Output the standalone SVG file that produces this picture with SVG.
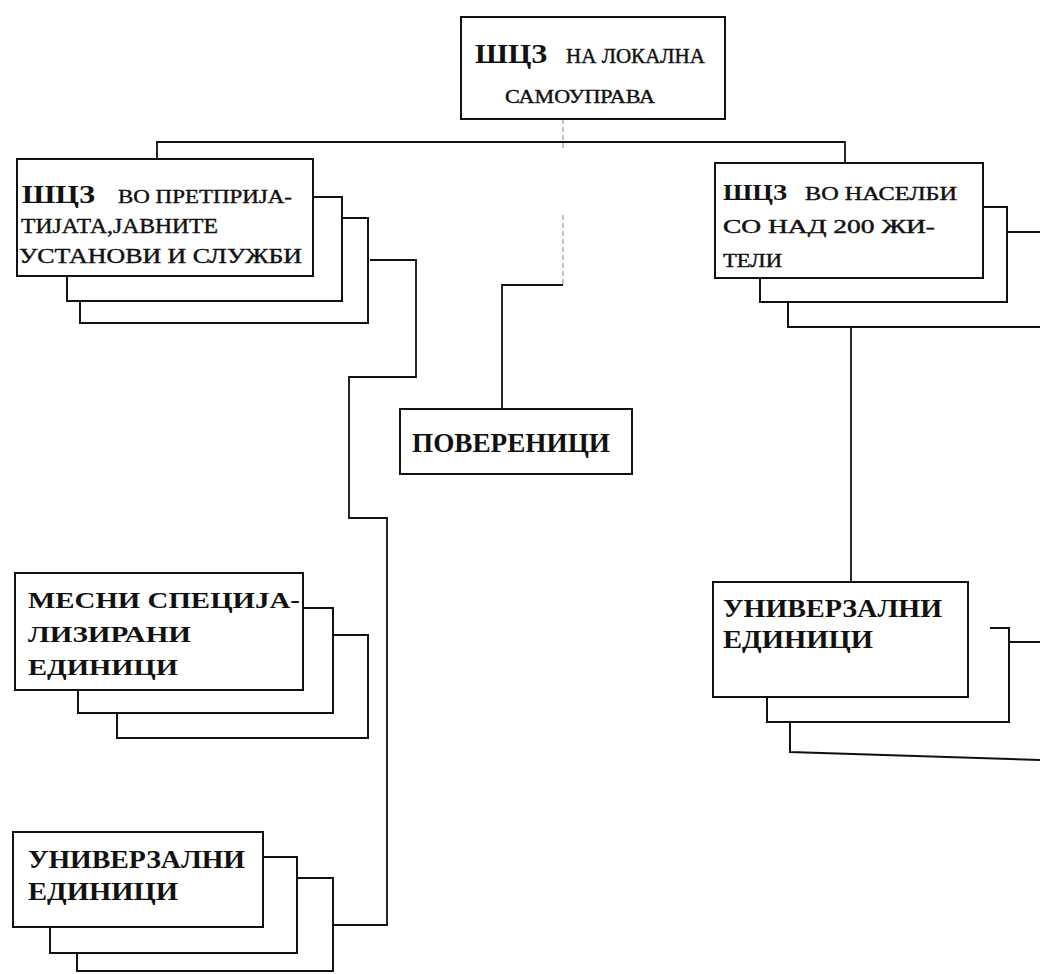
<svg xmlns="http://www.w3.org/2000/svg" width="1040" height="974" viewBox="0 0 1040 974">
<style>
.box{fill:#fff;stroke:#111;stroke-width:2}
.layer{fill:none;stroke:#111;stroke-width:2}
.conn{fill:none;stroke:#111;stroke-width:1.8}
.faint{fill:none;stroke:#9a9a9a;stroke-width:1.2;stroke-dasharray:5 3}
.t{font-family:"Liberation Serif","DejaVu Serif",serif;fill:#111}
.r{stroke:#111;stroke-width:0.4}
.b{font-weight:bold}
</style>
<rect width="1040" height="974" fill="#fff"/>
<g id="connectors">
<path class="conn" d="M157,158 V142 H845 V163"/>
<path class="faint" d="M563,119 V150 M563,215 V285"/>
<path class="conn" d="M563,285 H502 V409"/>
<path class="conn" d="M370,260 H416 V377 H349 V518 H387 V925 H333"/>
<path class="conn" d="M851,327 V582"/>
</g>
<g id="n1-local">
<rect class="box" x="461" y="17" width="264" height="102"/>
<text class="t" y="63"><tspan class="b" x="475" font-size="28" textLength="72" lengthAdjust="spacingAndGlyphs">ШЦЗ</tspan><tspan class="r" x="566" font-size="20" textLength="139" lengthAdjust="spacingAndGlyphs">НА ЛОКАЛНА</tspan></text>
<text class="t r" x="505" y="103" font-size="19" textLength="150" lengthAdjust="spacingAndGlyphs">САМОУПРАВА</text>
</g>
<g id="n2-enterprises">
<path class="layer" d="M342,218 H368 V323 H80 V301"/>
<path class="layer" d="M313,197 H342 V301 H67 V276"/>
<rect class="box" x="17" y="159" width="296" height="117"/>
<text class="t" y="203"><tspan class="b" x="22" font-size="26" textLength="73" lengthAdjust="spacingAndGlyphs">ШЦЗ</tspan><tspan class="r" x="118" font-size="19" textLength="174" lengthAdjust="spacingAndGlyphs">ВО ПРЕТПРИЈА-</tspan></text>
<text class="t r" x="21" y="233" font-size="20" textLength="197" lengthAdjust="spacingAndGlyphs">ТИЈАТА,ЈАВНИТЕ</text>
<text class="t r" x="19" y="263" font-size="20" textLength="283" lengthAdjust="spacingAndGlyphs">УСТАНОВИ И СЛУЖБИ</text>
</g>
<g id="n3-settlements">
<path class="layer" d="M1007,232 H1040 M1040,327 H788 V302"/>
<path class="layer" d="M983,207 H1007 V302 H760 V278"/>
<rect class="box" x="715" y="163" width="268" height="115"/>
<text class="t" y="200"><tspan class="b" x="723" font-size="24" textLength="64" lengthAdjust="spacingAndGlyphs">ШЦЗ</tspan><tspan class="r" x="805" font-size="18" textLength="152" lengthAdjust="spacingAndGlyphs">ВО НАСЕЛБИ</tspan></text>
<text class="t r" x="723" y="233" font-size="18" textLength="212" lengthAdjust="spacingAndGlyphs">СО НАД 200 ЖИ-</text>
<text class="t r" x="723" y="267" font-size="18" textLength="59" lengthAdjust="spacingAndGlyphs">ТЕЛИ</text>
</g>
<g id="n4-povereneci">
<rect class="box" x="400" y="409" width="232" height="65"/>
<text class="t b" x="412" y="452" font-size="27" textLength="198" lengthAdjust="spacingAndGlyphs">ПОВЕРЕНИЦИ</text>
</g>
<g id="n5-mesni">
<path class="layer" d="M333,635 H368 V738 H117 V713"/>
<path class="layer" d="M303,608 H333 V713 H78 V690"/>
<rect class="box" x="15" y="573" width="288" height="117"/>
<text class="t b" x="28" y="608" font-size="23" textLength="272" lengthAdjust="spacingAndGlyphs">МЕСНИ СПЕЦИЈА-</text>
<text class="t b" x="28" y="642" font-size="23" textLength="163" lengthAdjust="spacingAndGlyphs">ЛИЗИРАНИ</text>
<text class="t b" x="28" y="675" font-size="23" textLength="150" lengthAdjust="spacingAndGlyphs">ЕДИНИЦИ</text>
</g>
<g id="n6-univerzalni-left">
<path class="layer" d="M297,878 H333 V971 H77 V953"/>
<path class="layer" d="M263,857 H297 V953 H50 V927"/>
<rect class="box" x="13" y="832" width="250" height="95"/>
<text class="t b" x="28" y="868" font-size="25" textLength="217" lengthAdjust="spacingAndGlyphs">УНИВЕРЗАЛНИ</text>
<text class="t b" x="28" y="900" font-size="25" textLength="150" lengthAdjust="spacingAndGlyphs">ЕДИНИЦИ</text>
</g>
<g id="n7-univerzalni-right">
<path class="layer" d="M1010,642 H1040 M1040,760 L790,752 V722"/>
<path class="layer" d="M990,628 H1009 V722 H767 V697"/>
<rect class="box" x="713" y="582" width="255" height="115"/>
<text class="t b" x="723" y="617" font-size="25" textLength="219" lengthAdjust="spacingAndGlyphs">УНИВЕРЗАЛНИ</text>
<text class="t b" x="723" y="648" font-size="25" textLength="150" lengthAdjust="spacingAndGlyphs">ЕДИНИЦИ</text>
</g>
</svg>
